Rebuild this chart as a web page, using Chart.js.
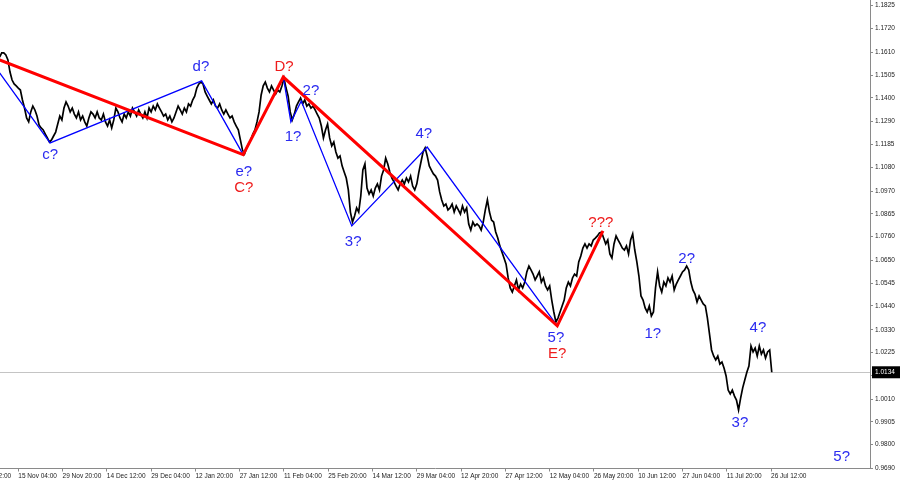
<!DOCTYPE html>
<html>
<head>
<meta charset="utf-8">
<script src="https://cdn.jsdelivr.net/npm/chart.js@4.4.0/dist/chart.umd.min.js"></script>
<style>
  html, body { margin: 0; padding: 0; background: #fff; }
  canvas { display: block; }
</style>
</head>
<body>
<canvas id="chart" width="900" height="485"></canvas>
<script>
// H4 chart, one date label every 64 bars, bar 0 = 15 Nov 04:00
const dateLabels = [
  "31 Oct 12:00", "15 Nov 04:00", "29 Nov 20:00", "14 Dec 12:00", "29 Dec 04:00",
  "12 Jan 20:00", "27 Jan 12:00", "11 Feb 04:00", "25 Feb 20:00", "14 Mar 12:00",
  "29 Mar 04:00", "12 Apr 20:00", "27 Apr 12:00", "12 May 04:00", "26 May 20:00",
  "10 Jun 12:00", "27 Jun 04:00", "11 Jul 20:00", "26 Jul 12:00"
];
const barsPerLabel = 64;
const firstBar = -27;
const barStep = 3;

const priceTicks = [
  0.9690, 0.9800, 0.9905, 1.0010, 1.0120, 1.0225, 1.0330, 1.0440, 1.0545, 1.0650, 1.0760,
  1.0865, 1.0970, 1.1080, 1.1185, 1.1290, 1.1400, 1.1505, 1.1610, 1.1720, 1.1825
];

// closes sampled every 3 bars
const closes = [
  1.1588, 1.1607, 1.1607, 1.1598, 1.1575, 1.1519, 1.1482, 1.1464, 1.1455, 1.1445,
  1.1436, 1.1390, 1.1353, 1.1307, 1.1289, 1.1335, 1.1362, 1.1344, 1.1316,
  1.1275, 1.1261, 1.1252, 1.1233, 1.1215, 1.1196, 1.1206, 1.1224, 1.1242, 1.1279,
  1.1316, 1.1298, 1.1353, 1.1381, 1.1362, 1.1335, 1.1353, 1.1325, 1.1307, 1.1335,
  1.1298, 1.1316, 1.1289, 1.1270, 1.1307, 1.1335,
  1.1325, 1.1307, 1.1335, 1.1307, 1.1298, 1.1325, 1.1289, 1.1270, 1.1298, 1.1261,
  1.1298, 1.1353, 1.1335, 1.1307, 1.1289, 1.1325, 1.1307, 1.1335, 1.1316, 1.1353,
  1.1335, 1.1316, 1.1344, 1.1325, 1.1307, 1.1335, 1.1307,
  1.1353, 1.1335, 1.1362, 1.1344, 1.1372, 1.1353, 1.1335, 1.1316, 1.1325, 1.1298,
  1.1316, 1.1289, 1.1307, 1.1335, 1.1362, 1.1344, 1.1325, 1.1353, 1.1335, 1.1372,
  1.1362, 1.1390, 1.1408, 1.1445, 1.1464, 1.1473,
  1.1464, 1.1427, 1.1408, 1.1390, 1.1372, 1.1390, 1.1362, 1.1353, 1.1372, 1.1344,
  1.1325, 1.1344, 1.1325, 1.1307, 1.1316, 1.1289, 1.1270, 1.1252, 1.1206, 1.1159,
  1.1141, 1.1169, 1.1187, 1.1206, 1.1233, 1.1252,
  1.1289, 1.1335, 1.1413, 1.1455, 1.1473, 1.1445, 1.1427, 1.1455, 1.1436, 1.1418,
  1.1436, 1.1427, 1.1455, 1.1491, 1.1445, 1.1408, 1.1335, 1.1298, 1.1325, 1.1362,
  1.1381, 1.1399, 1.1372, 1.1390, 1.1362, 1.1372, 1.1353,
  1.1362, 1.1344, 1.1325, 1.1307, 1.1270, 1.1215, 1.1252, 1.1279, 1.1215, 1.1178,
  1.1196, 1.1150, 1.1122, 1.1132, 1.1086, 1.1058, 1.1030, 1.0975, 1.0873, 1.0827,
  1.0855, 1.0892, 1.0873, 1.0947, 1.1067, 1.1095,
  1.0984, 1.0956, 1.0975, 1.0947, 1.0984, 1.1003, 1.0975, 1.1039, 1.1067, 1.1122,
  1.1095, 1.1058, 1.1030, 1.1012, 1.0993, 1.0975, 1.1003, 1.1021, 1.1003, 1.1030,
  1.1012, 1.1039, 1.0993, 1.0975, 1.1003, 1.1058, 1.1104,
  1.1150, 1.1169, 1.1132, 1.1086, 1.1067, 1.1049, 1.1039, 1.1021, 1.0966, 1.0929,
  1.0901, 1.0910, 1.0883, 1.0892, 1.0910, 1.0873, 1.0901, 1.0883, 1.0864, 1.0901,
  1.0873, 1.0892, 1.0818, 1.0790, 1.0827, 1.0809,
  1.0818, 1.0809, 1.0790, 1.0827, 1.0883, 1.0929, 1.0873, 1.0836, 1.0827, 1.0781,
  1.0753, 1.0717, 1.0689, 1.0661, 1.0633, 1.0569, 1.0523, 1.0504, 1.0532, 1.0560,
  1.0514, 1.0541, 1.0523, 1.0550, 1.0597, 1.0624, 1.0606,
  1.0587, 1.0560, 1.0578, 1.0597, 1.0550, 1.0569, 1.0532, 1.0514, 1.0532, 1.0467,
  1.0412, 1.0366, 1.0384, 1.0412, 1.0440, 1.0467, 1.0523, 1.0550, 1.0532, 1.0569,
  1.0587, 1.0578, 1.0643, 1.0670, 1.0707, 1.0726,
  1.0707, 1.0726, 1.0717, 1.0744, 1.0753, 1.0763, 1.0777, 1.0781, 1.0753, 1.0726,
  1.0744, 1.0680, 1.0661, 1.0726, 1.0763, 1.0744, 1.0726, 1.0707, 1.0698, 1.0717,
  1.0680, 1.0744, 1.0772, 1.0698, 1.0643, 1.0578,
  1.0486, 1.0467, 1.0431, 1.0412, 1.0440, 1.0394, 1.0412, 1.0523, 1.0597, 1.0532,
  1.0504, 1.0550, 1.0532, 1.0569, 1.0550, 1.0578, 1.0514, 1.0541, 1.0560, 1.0578,
  1.0597, 1.0606, 1.0624, 1.0606, 1.0550, 1.0514, 1.0495,
  1.0458, 1.0486, 1.0467, 1.0449, 1.0440, 1.0384, 1.0311, 1.0237, 1.0209, 1.0191,
  1.0209, 1.0172, 1.0181, 1.0154, 1.0117, 1.0052, 1.0034, 1.0052, 1.0025, 1.0006,
  0.9960, 1.0015, 1.0062, 1.0098, 1.0134, 1.0163,
  1.0255, 1.0228, 1.0246, 1.0209, 1.0255, 1.0218, 1.0237, 1.0200, 1.0228, 1.0237,
  1.0134
];

// wave counts
const redBars = [-27, 325, 383, 779, 845];
const redPrices = [1.1575, 1.1138, 1.1496, 1.0348, 1.0786];
const blueBars1 = [-27, 46, 265, 325];
const bluePrices1 = [1.1515, 1.1192, 1.1478, 1.1138];
const blueBars2 = [383, 394, 409, 482, 591, 779];
const bluePrices2 = [1.1496, 1.1289, 1.1385, 1.0809, 1.1173, 1.0348];

const blueTexts = ["c?", "d?", "e?", "1?", "2?", "3?", "4?", "5?", "1?", "2?", "4?", "3?", "5?"];
const blueTextBars = [46, 264, 326, 397, 423, 484, 586, 777, 917, 966, 1069, 1043, 1190];
const blueTextPrices = [1.1136, 1.1542, 1.1058, 1.1219, 1.1432, 1.0735, 1.1233, 1.0292, 1.0311, 1.0656, 1.0338, 0.9900, 0.9743];
const redTexts = ["C?", "D?", "E?", "???"];
const redTextBars = [326, 384, 779, 842];
const redTextPrices = [1.0984, 1.1542, 1.0218, 1.0823];

const BLUE = "#0000ff";
const BLUE_TXT = "#2b2bf0";
const RED = "#ff0000";
const RED_TXT = "#ee1c1c";
const AXIS = "#8a8a8a";
const TICK_FONT = { family: "'Liberation Sans', Arial, sans-serif", size: 6.5 };

const pricePoints = closes.map((c, i) => ({ x: firstBar + i * barStep, y: c }));
const toPoints = (bars, prices) => bars.map((b, i) => ({ x: b, y: prices[i] }));

const waveText = {
  id: "waveText",
  afterDatasetsDraw(chart) {
    const { ctx, scales: { x, y } } = chart;
    ctx.save();
    ctx.font = "15px 'Liberation Sans', Arial, sans-serif";
    ctx.textAlign = "center";
    ctx.textBaseline = "middle";
    ctx.fillStyle = BLUE_TXT;
    blueTexts.forEach((t, i) => {
      ctx.fillText(t, x.getPixelForValue(blueTextBars[i]), y.getPixelForValue(blueTextPrices[i]));
    });
    ctx.fillStyle = RED_TXT;
    redTexts.forEach((t, i) => {
      ctx.fillText(t, x.getPixelForValue(redTextBars[i]), y.getPixelForValue(redTextPrices[i]));
    });
    ctx.restore();
  }
};

// last price line + marker on the price scale
const lastPrice = {
  id: "lastPrice",
  beforeDatasetsDraw(chart) {
    const { ctx, chartArea, scales: { y } } = chart;
    const last = closes[closes.length - 1];
    const py = Math.round(y.getPixelForValue(last)) + 0.5;
    ctx.save();
    ctx.strokeStyle = "#c4c4c4";
    ctx.lineWidth = 1;
    ctx.beginPath();
    ctx.moveTo(chartArea.left, py);
    ctx.lineTo(chartArea.right, py);
    ctx.stroke();
    ctx.restore();
  },
  afterDraw(chart) {
    const { ctx, chartArea, scales: { y } } = chart;
    const last = closes[closes.length - 1];
    const py = y.getPixelForValue(last);
    ctx.save();
    ctx.fillStyle = "#000";
    ctx.fillRect(chartArea.right + 2, py - 6, 28, 12);
    ctx.fillStyle = "#fff";
    ctx.font = "6.5px 'Liberation Sans', Arial, sans-serif";
    ctx.textAlign = "left";
    ctx.textBaseline = "middle";
    ctx.fillText(last.toFixed(4), chartArea.right + 5, py);
    ctx.restore();
  }
};

new Chart(document.getElementById("chart"), {
  type: "line",
  data: {
    datasets: [
      { data: toPoints(redBars, redPrices), borderColor: RED, borderWidth: 3, order: 1 },
      { data: toPoints(blueBars1, bluePrices1), borderColor: BLUE, borderWidth: 1.3, order: 2 },
      { data: toPoints(blueBars2, bluePrices2), borderColor: BLUE, borderWidth: 1.3, order: 2 },
      { data: pricePoints, borderColor: "#000", borderWidth: 1.7, order: 3 }
    ]
  },
  options: {
    responsive: false,
    animation: false,
    devicePixelRatio: 1,
    layout: { padding: 0 },
    elements: { point: { radius: 0 }, line: { tension: 0 } },
    plugins: { legend: { display: false }, tooltip: { enabled: false } },
    scales: {
      x: {
        type: "linear",
        min: -26.45,
        max: 1231,
        afterBuildTicks: (s) => {
          s.ticks = dateLabels.map((_, i) => ({ value: (i - 1) * barsPerLabel }));
        },
        afterFit: (s) => {
          s.height = 16.5;
          s.paddingLeft = 0;
          s.paddingRight = 0;
        },
        ticks: {
          autoSkip: false,
          maxRotation: 0,
          align: "start",
          padding: 1,
          color: "#222",
          font: TICK_FONT,
          callback: (v) => dateLabels[Math.round(v / barsPerLabel) + 1]
        },
        grid: { drawOnChartArea: false, tickLength: 3, color: AXIS },
        border: { color: AXIS }
      },
      y: {
        position: "right",
        min: 0.96901,
        max: 1.18513,
        afterBuildTicks: (s) => {
          s.ticks = priceTicks.map((v) => ({ value: v }));
        },
        afterFit: (s) => {
          s.width = 30;
          s.paddingTop = 0;
          s.paddingBottom = 0;
        },
        ticks: {
          padding: 2,
          color: "#222",
          font: TICK_FONT,
          callback: (v) => v.toFixed(4)
        },
        grid: { drawOnChartArea: false, tickLength: 3, color: AXIS },
        border: { color: AXIS }
      }
    }
  },
  plugins: [lastPrice, waveText]
});
</script>
</body>
</html>
